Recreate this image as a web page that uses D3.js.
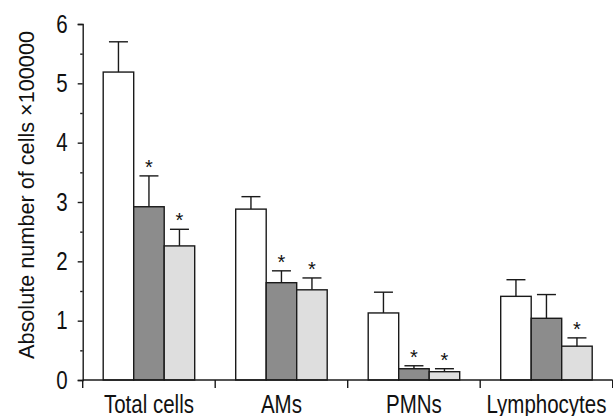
<!DOCTYPE html>
<html>
<head>
<meta charset="utf-8">
<script src="https://cdn.jsdelivr.net/npm/d3@7"></script>
<style>
  body { margin: 0; background: #fff; }
  text { font-family: "Liberation Sans", Arial, sans-serif; fill: #111; }
</style>
</head>
<body>
<script>
const categories = ["Total cells", "AMs", "PMNs", "Lymphocytes"]
const series = ["s1", "s2", "s3"]
const colors = ["#ffffff", "#8c8c8c", "#dedede"]
// means, per series, per category
const means = [
  [5.19, 2.88, 1.13, 1.41],
  [2.92, 1.64, 0.19, 1.04],
  [2.26, 1.52, 0.14, 0.57]
]
const errors = [
  [0.51, 0.21, 0.35, 0.28],
  [0.52, 0.20, 0.05, 0.40],
  [0.28, 0.20, 0.05, 0.14]
]
const stars = [
  [false, false, false, false],
  [true, true, true, false],
  [true, true, true, true]
]
const yTicks = [0, 1, 2, 3, 4, 5, 6]
const yMinor = [0.5, 1.5, 2.5, 3.5, 4.5, 5.5]

const W = 613, H = 416
const mLeft = 82.7, mRight = 612.7, mBottom = 380, mTop = 24
const narrow = 0.82   // fake a condensed face, no narrow font installed

const svg = d3.select("body").append("svg")
  .attr("width", W)
  .attr("height", H)

const y = d3.scaleLinear().domain([0, 6]).range([mBottom, mTop])
const x = d3.scaleBand().domain(categories).range([mLeft, mRight])
const groupW = 91.5
const off = (x.bandwidth() - groupW) / 2
const x1 = d3.scaleBand().domain(series).range([off, off + groupW])

const stroke = "#1a1a1a"

// bars
const rows = []
series.forEach((s, i) => {
  categories.forEach((c, j) => {
    rows.push({ s: s, i: i, c: c, v: means[i][j], e: errors[i][j], star: stars[i][j] })
  })
})

const g = svg.append("g")
g.selectAll("rect.bar").data(rows).join("rect")
  .attr("class", "bar")
  .attr("x", d => x(d.c) + x1(d.s))
  .attr("y", d => y(d.v))
  .attr("width", x1.bandwidth())
  .attr("height", d => y(0) - y(d.v))
  .attr("fill", d => colors[d.i])
  .attr("stroke", stroke)
  .attr("stroke-width", 1.4)

// error bars
const cap = 19
const eb = g.selectAll("g.err").data(rows).join("g").attr("class", "err")
eb.append("line")
  .attr("x1", d => x(d.c) + x1(d.s) + x1.bandwidth() / 2)
  .attr("x2", d => x(d.c) + x1(d.s) + x1.bandwidth() / 2)
  .attr("y1", d => y(d.v))
  .attr("y2", d => y(d.v + d.e))
  .attr("stroke", stroke).attr("stroke-width", 1.4)
eb.append("line")
  .attr("x1", d => x(d.c) + x1(d.s) + x1.bandwidth() / 2 - cap / 2)
  .attr("x2", d => x(d.c) + x1(d.s) + x1.bandwidth() / 2 + cap / 2)
  .attr("y1", d => y(d.v + d.e))
  .attr("y2", d => y(d.v + d.e))
  .attr("stroke", stroke).attr("stroke-width", 1.4)

// significance stars
g.selectAll("text.star").data(rows.filter(d => d.star)).join("text")
  .attr("class", "star")
  .attr("x", d => x(d.c) + x1(d.s) + x1.bandwidth() / 2)
  .attr("y", d => y(d.v + d.e) - 2)
  .attr("text-anchor", "middle")
  .attr("font-size", 20)
  .text("*")

// y axis
const yAxis = svg.append("g")
  .attr("transform", `translate(${mLeft},0)`)
  .call(d3.axisLeft(y).tickValues(yTicks).tickSize(5).tickPadding(10).tickFormat(d3.format("d")))
yAxis.select(".domain").attr("stroke", stroke).attr("stroke-width", 1.4)
yAxis.selectAll(".tick line").attr("stroke", stroke).attr("stroke-width", 1.4)
yAxis.selectAll(".tick text")
  .attr("font-size", 25).attr("fill", "#111")
  .attr("font-family", "Liberation Sans, Arial, sans-serif")
  .attr("x", -15 / narrow)
  .attr("transform", `scale(${narrow},1)`)

const yMin = svg.append("g")
  .attr("transform", `translate(${mLeft},0)`)
  .call(d3.axisLeft(y).tickValues(yMinor).tickSize(2.5).tickFormat(""))
yMin.select(".domain").remove()
yMin.selectAll(".tick line").attr("stroke", stroke).attr("stroke-width", 1.4)

// x axis: line + boundary ticks + category labels
const xa = svg.append("g")
xa.append("line")
  .attr("x1", mLeft).attr("x2", mRight)
  .attr("y1", mBottom).attr("y2", mBottom)
  .attr("stroke", stroke).attr("stroke-width", 1.4)
const bounds = categories.map(c => x(c)).concat([x.range()[1]])
xa.selectAll("line.bt").data(bounds).join("line")
  .attr("class", "bt")
  .attr("x1", d => d).attr("x2", d => d)
  .attr("y1", mBottom).attr("y2", mBottom + 8)
  .attr("stroke", stroke).attr("stroke-width", 1.4)
xa.selectAll("text.cat").data(categories).join("text")
  .attr("class", "cat")
  .attr("transform", d => `translate(${x(d) + x.bandwidth() / 2},412.5) scale(${narrow},1)`)
  .attr("text-anchor", "middle")
  .attr("font-size", 25)
  .text(d => d)

// y axis title
svg.append("text")
  .attr("transform", `translate(34,195) rotate(-90)`)
  .attr("text-anchor", "middle")
  .attr("font-size", 21.5)
  .attr("textLength", 328)
  .attr("lengthAdjust", "spacingAndGlyphs")
  .text("Absolute number of cells \u00d7100000")
</script>
</body>
</html>
